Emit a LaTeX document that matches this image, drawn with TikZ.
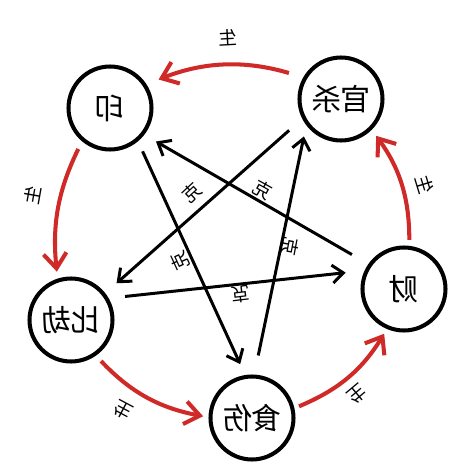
\documentclass[tikz,border=0pt]{standalone}
\usepackage{fontspec}
\newfontfamily\cjk{Noto Sans CJK SC}
\usetikzlibrary{scopes,arrows.meta}
\definecolor{shengred}{RGB}{208,42,40}
\newcommand{\mirr}[1]{\reflectbox{#1}}

\begin{document}
\begin{tikzpicture}[
    x=0.02cm, y=0.02cm,
    elem/.style={circle,draw=black,line width=2.3pt,minimum size=1.66cm,inner sep=0pt,font=\cjk\fontsize{17}{17}\selectfont},
    sheng/.style={color=shengred,line width=2.3pt,-{Straight Barb[length=0.3cm,width=0.46cm]}},
    ke/.style={color=black,line width=1.7pt,-{Straight Barb[length=0.22cm,width=0.36cm]}},
    lbl/.style={font=\cjk\fontsize{10.5}{10.5}\selectfont,inner sep=0pt},
]
\useasboundingbox[fill=white] (0,0) rectangle (474,474);

\node[elem] (yin) at (110,366) {\mirr{印}};
\node[elem] (guan) at (341,375) {\mirr{官杀}};
\node[elem] (cai) at (404,185) {\mirr{财}};
\node[elem] (shi) at (252,56) {\mirr{食伤}};
\node[elem] (bi) at (71,154) {\mirr{比劫}};

{[sheng]
    \draw[shorten <=0.3cm,shorten >=0.26cm] (guan.150) to[bend right=19] (yin.33);
    \draw[shorten <=0.17cm,shorten >=0.14cm] (yin.230) to[bend right=16] (bi.108);
    \draw[shorten <=0.15cm,shorten >=0.11cm] (bi.-55) to[bend right=18] (shi.179);
    \draw[shorten <=0.1cm,shorten >=0.11cm] (shi.13) to[bend right=18] (cai.247);
    \draw[shorten <=0.12cm,shorten >=0.15cm] (cai.83) to[bend right=18] (guan.-45);
}
{[ke]
    \draw[shorten <=0.22cm,shorten >=0.24cm] (yin.-50) -- (shi.99);
    \draw[shorten <=0.39cm,shorten >=0.23cm] (shi.87) -- (guan.217);
    \draw[shorten <=0.35cm,shorten >=0.3cm] (guan.207) -- (bi.38);
    \draw[shorten <=0.33cm,shorten >=0.38cm] (bi.30) -- (cai.155);
    \draw[shorten <=0.38cm,shorten >=0.27cm] (cai.145) -- (yin.-38);
}

\node[lbl,rotate=3] (s1) at (228,436) {\mirr{生}};
\node[lbl,rotate=80] (s2) at (33,279) {\mirr{生}};
\node[lbl,rotate=152] (s3) at (123,64) {\mirr{生}};
\node[lbl,rotate=-140] (s4) at (357,80) {\mirr{生}};
\node[lbl,rotate=-73] (s5) at (425,289) {\mirr{生}};

\node[lbl,rotate=42.7] (k1) at (192,281) {\mirr{克}};
\node[lbl,rotate=-29] (k2) at (263,284) {\mirr{克}};
\node[lbl,rotate=-100.7] (k3) at (290,227) {\mirr{克}};
\node[lbl,rotate=-173.1] (k4) at (240,180) {\mirr{克}};
\node[lbl,rotate=114.7] (k5) at (180,213) {\mirr{克}};
\end{tikzpicture}
\end{document}
